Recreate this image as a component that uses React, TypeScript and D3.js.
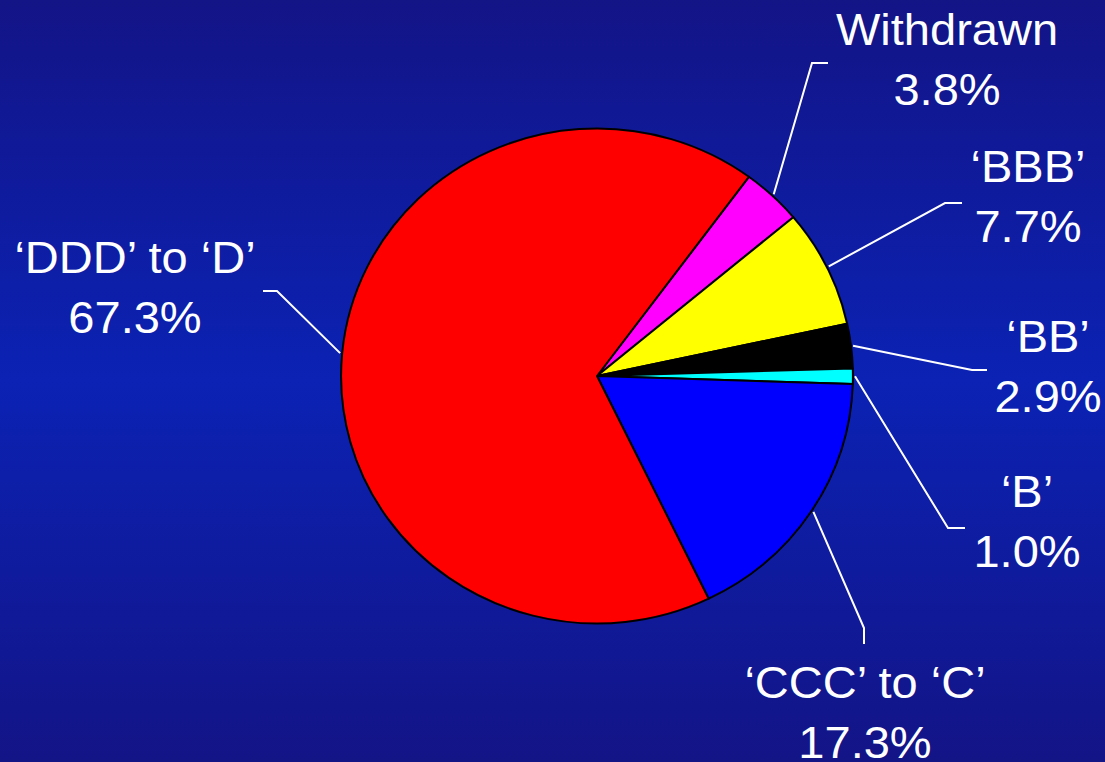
import React, { useMemo } from "react";
import * as d3 from "d3";

// Rating distribution shares (%)
const categories = ["Withdrawn", "‘BBB’", "‘BB’", "‘B’", "‘CCC’ to ‘C’", "‘DDD’ to ‘D’"];
const shares = [3.8, 7.7, 2.9, 1.0, 17.3, 67.3];
const sliceColors = ["#ff00ff", "#ffff00", "#000000", "#00ffff", "#0000ff", "#ff0000"];

// Label layout: text centre (first baseline), leader elbow and leader end
const labelCenters: [number, number][] = [
  [947, 45],
  [1028, 182],
  [1048, 352],
  [1027, 507],
  [865, 698],
  [135, 273],
];
const leaderElbows: [number, number][] = [
  [812, 63],
  [945, 203],
  [972, 370],
  [948, 528],
  [864, 628],
  [277, 291],
];
const leaderEnds: [number, number][] = [
  [828, 63],
  [962, 203],
  [987, 370],
  [965, 528],
  [864, 644],
  [263, 291],
];

const W = 1105;
const H = 762;
const CX = 597;
const CY = 376;
const R = 247.5;
const SX = 1.034; // horizontal stretch of the pie
const START = (36.4 * Math.PI) / 180;
const FONT = "'Liberation Sans', Arial, Helvetica, sans-serif";

export default function App() {
  const arcs = useMemo(
    () =>
      d3
        .pie<number>()
        .sort(null)
        .value((d) => d)
        .startAngle(START)
        .endAngle(START + 2 * Math.PI)(shares),
    []
  );
  const arcGen = d3.arc<d3.PieArcDatum<number>>().innerRadius(0).outerRadius(R);

  return (
    <svg
      width={W}
      height={H}
      viewBox={`0 0 ${W} ${H}`}
      style={{ position: "absolute", left: 0, top: 0, display: "block" }}
    >
      <defs>
        <linearGradient id="bg" x1="0" y1="0" x2="0" y2="1">
          <stop offset="0%" stopColor="#131486" />
          <stop offset="50%" stopColor="#0b22b4" />
          <stop offset="100%" stopColor="#131486" />
        </linearGradient>
      </defs>
      <rect x={0} y={0} width={W} height={H} fill="url(#bg)" />

      <g transform={`translate(${CX},${CY}) scale(${SX},1)`}>
        {arcs.map((a, i) => (
          <path
            key={i}
            d={arcGen(a) || ""}
            fill={sliceColors[i]}
            stroke="#000"
            strokeWidth={2}
            strokeLinejoin="round"
            vectorEffect="non-scaling-stroke"
          />
        ))}
      </g>

      {arcs.map((a, i) => {
        const mid = (a.startAngle + a.endAngle) / 2;
        const x0 = CX + SX * (R + 2) * Math.sin(mid);
        const y0 = CY - (R + 2) * Math.cos(mid);
        const [ex, ey] = leaderElbows[i];
        const [fx, fy] = leaderEnds[i];
        return (
          <polyline
            key={`l${i}`}
            points={`${x0},${y0} ${ex},${ey} ${fx},${fy}`}
            fill="none"
            stroke="#ffffff"
            strokeWidth={2}
          />
        );
      })}

      {categories.map((c, i) => {
        const [tx, ty] = labelCenters[i];
        return (
          <g key={`t${i}`} transform={`translate(${tx},${ty}) scale(1.045,1)`}>
            <text
              x={0}
              y={0}
              textAnchor="middle"
              fill="#ffffff"
              fontFamily={FONT}
              fontSize={45}
            >
              {c}
            </text>
            <text
              x={0}
              y={60}
              textAnchor="middle"
              fill="#ffffff"
              fontFamily={FONT}
              fontSize={45}
            >
              {shares[i].toFixed(1) + "%"}
            </text>
          </g>
        );
      })}
    </svg>
  );
}
